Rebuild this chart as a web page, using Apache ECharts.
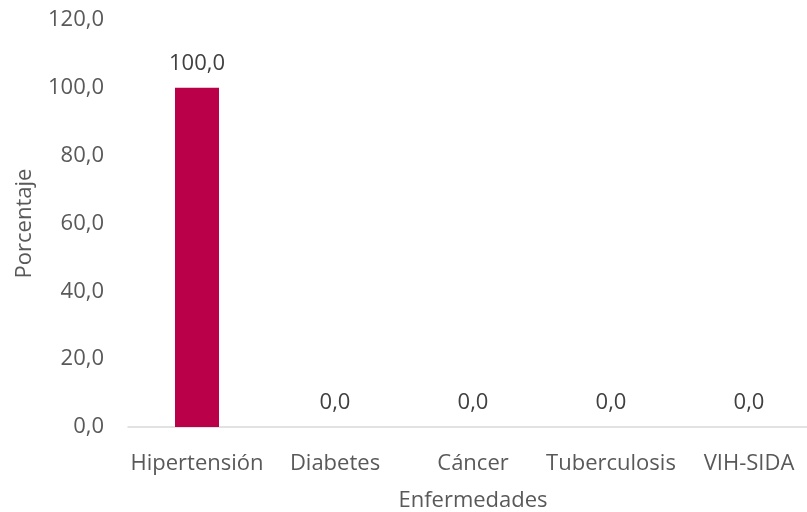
<!DOCTYPE html>
<html><head><meta charset="utf-8">
<script src="https://cdn.jsdelivr.net/npm/echarts@6/dist/echarts.min.js"></script>
<style>html,body{margin:0;padding:0;background:#fff}#c{width:807px;height:512px}</style>
</head><body><div id="c"></div>
<script>
const categories = ['Hipertensión', 'Diabetes', 'Cáncer', 'Tuberculosis', 'VIH-SIDA'];
const values = [100.0, 0.0, 0.0, 0.0, 0.0];
const yTicks = { min: 0, max: 120, interval: 20 };
const fmt = v => v.toFixed(1).replace('.', ',');
const font = '"Open Sans", "Noto Sans", sans-serif';
const chart = echarts.init(document.getElementById('c'));
chart.setOption({
  animation: false,
  grid: { left: 128, width: 690, top: 20, bottom: 85, containLabel: false, outerBoundsMode: 'none' },
  xAxis: {
    type: 'category', data: categories,
    name: 'Enfermedades', nameLocation: 'middle', nameGap: 63,
    nameTextStyle: { color: '#595959', fontSize: 22, fontFamily: font },
    axisLine: { lineStyle: { color: '#D9D9D9', width: 1.5 } },
    axisTick: { show: false },
    axisLabel: { color: '#595959', fontSize: 22, fontFamily: font, margin: 26, interval: 0 }
  },
  yAxis: {
    type: 'value', min: yTicks.min, max: yTicks.max, interval: yTicks.interval,
    name: 'Porcentaje', nameLocation: 'middle', nameGap: 92, nameRotate: 90,
    nameTextStyle: { color: '#595959', fontSize: 22, fontFamily: font },
    splitLine: { show: false },
    axisLine: { show: false }, axisTick: { show: false },
    axisLabel: { color: '#595959', fontSize: 22, fontFamily: font, margin: 24, formatter: fmt }
  },
  series: [{
    type: 'bar', data: values, barWidth: 44,
    itemStyle: { color: '#BA0049' },
    label: { show: true, position: 'top', distance: 13, color: '#404040', fontSize: 22, fontFamily: font,
      formatter: p => fmt(p.value) }
  }]
});
</script></body></html>
